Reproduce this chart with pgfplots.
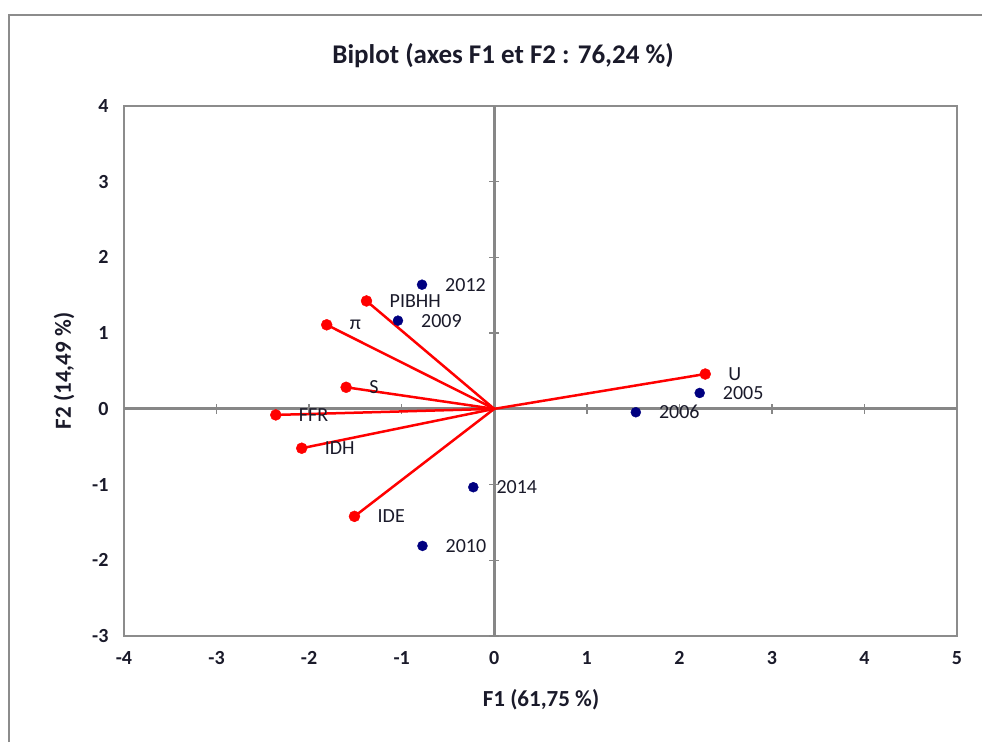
\documentclass[border=0pt]{standalone}
\usepackage{fontspec}
\setmainfont{Carlito}
\usepackage{pgfplots}
\usepackage{pgfplotstable}
\pgfplotsset{compat=1.18}

\definecolor{framegray}{HTML}{8C8C8C}
\definecolor{zerogray}{HTML}{878787}
\definecolor{obsblue}{HTML}{000080}
\definecolor{txt}{HTML}{1A1A2A}

% Variable coordinates (F1, F2)
\pgfplotstableread{
x y name
-1.38 1.425 PIBHH
-1.81 1.11 π
-1.60 0.285 S
-2.36 -0.08 FFR
-2.08 -0.52 IDH
-1.51 -1.42 IDE
2.28 0.46 U
}\variables

% Observation coordinates (F1, F2)
\pgfplotstableread{
x y name
-0.78 1.64 2012
-1.04 1.165 2009
2.22 0.21 2005
1.53 -0.045 2006
-0.226 -1.035 2014
-0.775 -1.81 2010
}\observations

\begin{document}
\begin{tikzpicture}[x=1pt,y=1pt]
\useasboundingbox (0,0) rectangle (982,742);
\draw[framegray, line width=2pt] (9,0) -- (9,727) -- (982,727);
\node[font=\bfseries\fontsize{27}{31}\selectfont, text=txt] at (503,686) {Biplot (axes F1 et F2 : 76,24 \%)};
\node[font=\bfseries\fontsize{23}{27}\selectfont, text=txt] at (541,42) {F1 (61,75 \%)};
\node[font=\bfseries\fontsize{23}{27}\selectfont, text=txt, rotate=90] at (64,371) {F2 (14,49 \%)};
\begin{axis}[
  at={(124pt,106pt)}, anchor=south west,
  scale only axis, width=833pt, height=530pt,
  xmin=-4, xmax=5, ymin=-3, ymax=4,
  xtick={-4,...,5}, ytick={-3,...,4},
  major tick length=0pt,
  axis line style={framegray, line width=2pt},
  /pgf/number format/assume math mode=true,
  tick label style={font=\bfseries\fontsize{20}{24}\selectfont, text=txt},
  yticklabel style={xshift=-12pt},
  xticklabel style={yshift=-12pt},
  clip=false,
]
% zero lines with their small cross ticks
\draw[zerogray, line width=3pt] (axis cs:-4,0) -- (axis cs:5,0);
\draw[zerogray, line width=3pt] (axis cs:0,-3) -- (axis cs:0,4);
\pgfplotsinvokeforeach{-3,-2,-1,1,2,3}{
  \draw[zerogray, line width=1.5pt] ([xshift=-5pt]axis cs:0,#1) -- ([xshift=5pt]axis cs:0,#1);
}
\pgfplotsinvokeforeach{-3,-2,-1,1,2,3,4}{
  \draw[zerogray, line width=1.5pt] ([yshift=-5pt]axis cs:#1,0) -- ([yshift=5pt]axis cs:#1,0);
}
% variable vectors from the origin
\addplot[red, line width=2.5pt, quiver={u=\thisrow{x}, v=\thisrow{y}}, mark=none]
  table[x expr=0, y expr=0] {\variables};
\addplot[only marks, mark=*, mark size=5.5pt, red,
  nodes near coords, point meta=explicit symbolic,
  every node near coord/.append style={anchor=west, xshift=23pt, inner sep=0pt,
    font=\fontsize{20}{24}\selectfont, text=txt}]
  table[meta=name] {\variables};
% observations
\addplot[only marks, mark=*, mark size=5pt, obsblue,
  nodes near coords, point meta=explicit symbolic,
  every node near coord/.append style={anchor=west, xshift=23pt, inner sep=0pt,
    font=\fontsize{20}{24}\selectfont, text=txt}]
  table[meta=name] {\observations};
\end{axis}
\end{tikzpicture}
\end{document}
